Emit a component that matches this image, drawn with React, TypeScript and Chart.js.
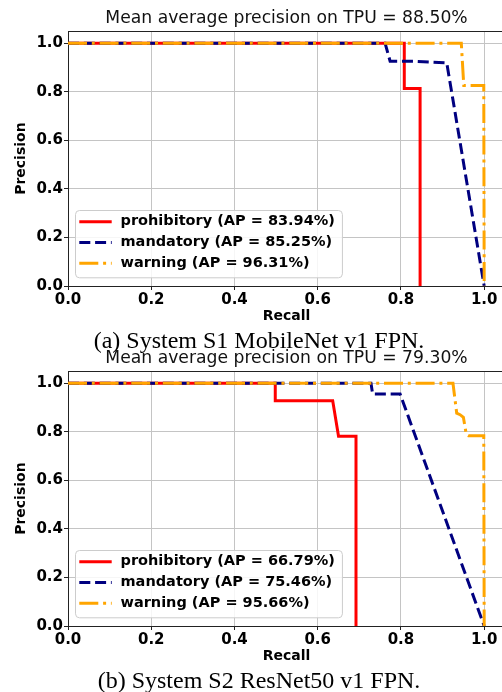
import React, { useEffect, useRef } from "react";
import { Chart, registerables } from "chart.js";

Chart.register(...registerables);

// ---------- data ----------
const recallTicks = [0, 0.2, 0.4, 0.6, 0.8, 1.0];
const recallTickLabels = ["0.0", "0.2", "0.4", "0.6", "0.8", "1.0"];
const precisionTicks = [0, 0.2, 0.4, 0.6, 0.8, 1.0];
const precisionTickLabels = ["0.0", "0.2", "0.4", "0.6", "0.8", "1.0"];

const classNames = ["prohibitory", "mandatory", "warning"];

// Panel (a)
const titleA = "Mean average precision on TPU = 88.50%";
const captionA = "(a) System S1 MobileNet v1 FPN.";
const apA = ["83.94%", "85.25%", "96.31%"];
const recallProhibitoryA = [0, 0.808, 0.808, 0.846, 0.846];
const precisionProhibitoryA = [1, 1, 0.814, 0.814, 0];
const recallMandatoryA = [0, 0.762, 0.774, 0.83, 0.91, 1.0];
const precisionMandatoryA = [1, 1, 0.926, 0.926, 0.92, 0];
const recallWarningA = [0, 0.945, 0.951, 0.999, 1.0];
const precisionWarningA = [1, 1, 0.826, 0.826, 0];

// Panel (b)
const titleB = "Mean average precision on TPU = 79.30%";
const captionB = "(b) System S2 ResNet50 v1 FPN.";
const apB = ["66.79%", "75.46%", "95.66%"];
const recallProhibitoryB = [0, 0.498, 0.498, 0.636, 0.65, 0.692, 0.692];
const precisionProhibitoryB = [1, 1, 0.928, 0.928, 0.782, 0.782, 0];
const recallMandatoryB = [0, 0.728, 0.732, 0.798, 1.0];
const precisionMandatoryB = [1, 1, 0.956, 0.956, 0];
const recallWarningB = [0, 0.925, 0.934, 0.942, 0.95, 0.957, 0.962, 0.999, 1.0];
const precisionWarningB = [1, 1, 0.877, 0.871, 0.86, 0.789, 0.784, 0.784, 0];

// ---------- styles ----------
const seriesStyles = [
  { color: "#ff0000", dash: [] as number[], order: 3 },
  { color: "#000080", dash: [11, 4.8], order: 2 },
  { color: "#ffa500", dash: [19, 4.8, 3, 4.8], order: 1 },
];

const FONT = "'DejaVu Sans', sans-serif";

const zip = (xs: number[], ys: number[]) => xs.map((x, i) => ({ x, y: ys[i] }));

const legendPlugin = {
  id: "boxLegend",
  afterDatasetsDraw(chart: any) {
    const { ctx, chartArea } = chart;
    const ds = chart.data.datasets;
    ctx.save();
    ctx.font = `bold 14.5px ${FONT}`;
    const textW = Math.max(...ds.map((d: any) => ctx.measureText(d.label).width));
    const x0 = chartArea.left + 7;
    const w = 45.5 + textW + 7;
    const y1 = chartArea.bottom - 8.7;
    const y0 = y1 - 67.3;
    ctx.beginPath();
    ctx.roundRect(x0 + 0.5, y0 + 0.5, w, y1 - y0, 4);
    ctx.fillStyle = "rgba(255,255,255,0.85)";
    ctx.fill();
    ctx.strokeStyle = "#cccccc";
    ctx.lineWidth = 1;
    ctx.stroke();
    ds.forEach((d: any, i: number) => {
      const cy = y0 + 11.7 + i * 20.8;
      ctx.beginPath();
      ctx.strokeStyle = d.borderColor;
      ctx.lineWidth = d.borderWidth;
      ctx.setLineDash(d.borderDash || []);
      ctx.lineCap = "butt";
      ctx.moveTo(x0 + 4.3, cy);
      ctx.lineTo(x0 + 36.7, cy);
      ctx.stroke();
      ctx.setLineDash([]);
      ctx.fillStyle = "#000";
      ctx.textBaseline = "middle";
      ctx.textAlign = "left";
      ctx.fillText(d.label, x0 + 45.5, cy);
    });
    ctx.restore();
  },
};

const framePlugin = {
  id: "frame",
  afterDraw(chart: any) {
    const { ctx, chartArea } = chart;
    ctx.save();
    ctx.strokeStyle = "#222";
    ctx.lineWidth = 1;
    ctx.beginPath();
    const t = Math.round(chartArea.top) + 0.5;
    ctx.moveTo(chartArea.left, t);
    ctx.lineTo(chartArea.right, t);
    ctx.moveTo(Math.round(chartArea.right) + 0.5, chartArea.top);
    ctx.lineTo(Math.round(chartArea.right) + 0.5, chartArea.bottom);
    ctx.stroke();
    ctx.restore();
  },
};

type PanelProps = {
  top: number;
  title: string;
  caption: string;
  ap: string[];
  series: { x: number[]; y: number[] }[];
};

function Panel({ top, title, caption, ap, series }: PanelProps) {
  const ref = useRef<HTMLCanvasElement | null>(null);
  useEffect(() => {
    if (!ref.current) return;
    const chart = new Chart(ref.current, {
      type: "line",
      data: {
        datasets: series.map((s, i) => ({
          label: `${classNames[i]} (AP = ${ap[i]})`,
          data: zip(s.x, s.y),
          borderColor: seriesStyles[i].color,
          backgroundColor: seriesStyles[i].color,
          borderDash: seriesStyles[i].dash,
          borderWidth: 3,
          pointRadius: 0,
          tension: 0,
          fill: false,
          order: seriesStyles[i].order,
        })),
      },
      options: {
        animation: false,
        responsive: false,
        layout: { padding: { left: 0, right: 5, top: 0, bottom: 0 } },
        plugins: {
          legend: { display: false },
          tooltip: { enabled: false },
          title: {
            display: true,
            text: title,
            fullSize: false,
            color: "#111",
            font: { family: FONT, size: 17.2, weight: "normal" },
            padding: { top: 8, bottom: 2.6 },
          },
        },
        scales: {
          x: {
            type: "linear",
            min: 0,
            max: 1.05,
            afterFit: (s: any) => {
              s.height = 44;
            },
            afterBuildTicks: (s: any) => {
              s.ticks = recallTicks.map((v) => ({ value: v }));
            },
            ticks: {
              callback: (_v: any, i: number) => recallTickLabels[i],
              font: { family: FONT, size: 15, weight: "bold" },
              color: "#000",
              padding: 1,
              maxRotation: 0,
              autoSkip: false,
            },
            grid: { color: "#c4c4c4", lineWidth: 1, tickColor: "#222", tickLength: 4 },
            border: { display: true, color: "#222", width: 1 },
            title: {
              display: true,
              text: "Recall",
              color: "#000",
              font: { family: FONT, size: 14, weight: "bold" },
              padding: { top: 0, bottom: 5 },
            },
          },
          y: {
            type: "linear",
            min: 0,
            max: 1.05,
            afterFit: (s: any) => {
              s.width = 68;
            },
            afterBuildTicks: (s: any) => {
              s.ticks = precisionTicks.map((v) => ({ value: v }));
            },
            ticks: {
              callback: (_v: any, i: number) => precisionTickLabels[i],
              font: { family: FONT, size: 15, weight: "bold" },
              color: "#000",
              padding: 1,
              autoSkip: false,
            },
            grid: { color: "#c4c4c4", lineWidth: 1, tickColor: "#222", tickLength: 4 },
            border: { display: true, color: "#222", width: 1 },
            title: {
              display: true,
              text: "Precision",
              color: "#000",
              font: { family: FONT, size: 14, weight: "bold" },
              padding: { top: 13, bottom: 0 },
            },
          },
        },
      } as any,
      plugins: [legendPlugin, framePlugin],
    });
    return () => chart.destroy();
  }, []);

  return (
    <>
      <div style={{ position: "absolute", left: 0, top, width: 510, height: 330 }}>
        <canvas ref={ref} width={510} height={330} style={{ width: 510, height: 330, display: "block" }} />
      </div>
      <div
        style={{
          position: "absolute",
          left: 259,
          top: top + 327.6,
          transform: "translateX(-50%)",
          whiteSpace: "nowrap",
          font: "24px 'Liberation Serif', serif",
          lineHeight: "24px",
          color: "#000",
        }}
      >
        {caption}
      </div>
    </>
  );
}

export default function App() {
  return (
    <div
      style={{
        position: "absolute",
        left: 0,
        top: 0,
        width: 502,
        height: 692,
        overflow: "hidden",
        background: "#fff",
      }}
    >
      <Panel
        top={0}
        title={titleA}
        caption={captionA}
        ap={apA}
        series={[
          { x: recallProhibitoryA, y: precisionProhibitoryA },
          { x: recallMandatoryA, y: precisionMandatoryA },
          { x: recallWarningA, y: precisionWarningA },
        ]}
      />
      <Panel
        top={340}
        title={titleB}
        caption={captionB}
        ap={apB}
        series={[
          { x: recallProhibitoryB, y: precisionProhibitoryB },
          { x: recallMandatoryB, y: precisionMandatoryB },
          { x: recallWarningB, y: precisionWarningB },
        ]}
      />
    </div>
  );
}
